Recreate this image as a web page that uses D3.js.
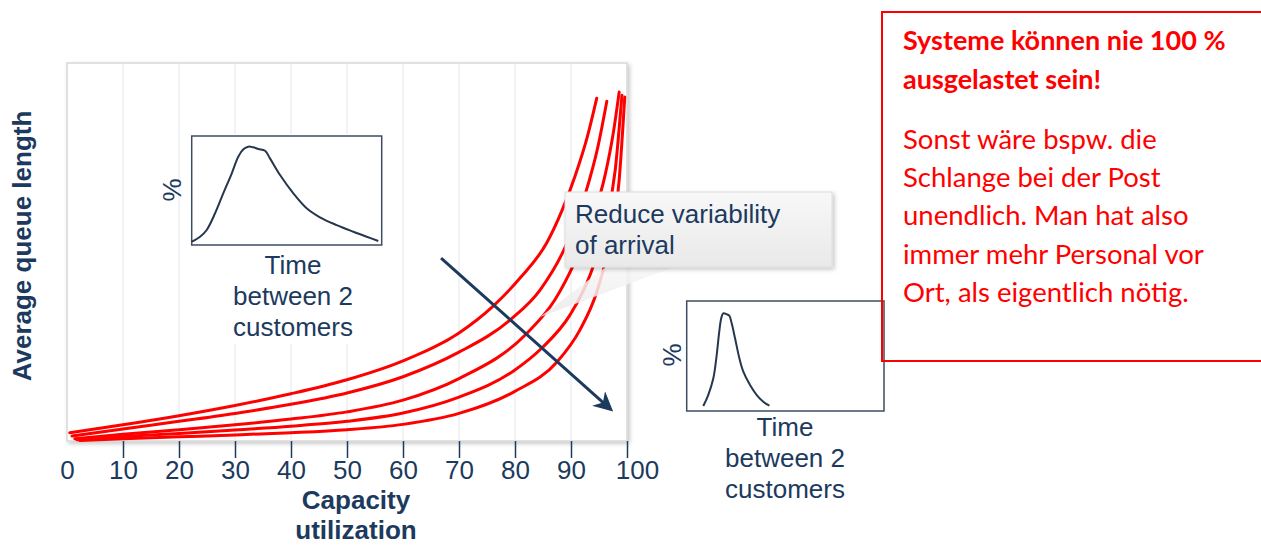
<!DOCTYPE html>
<html>
<head>
<meta charset="utf-8">
<script src="https://cdn.jsdelivr.net/npm/d3@7"></script>
<style>
  body { margin: 0; background: #fff; }
  svg { display: block; }
</style>
</head>
<body>
<svg id="chart" width="1261" height="545"></svg>
<script>
// Capacity utilization (%) tick labels
const utilTicks = [0, 10, 20, 30, 40, 50, 60, 70, 80, 90, 100];

// Average queue length vs. utilization, one curve per level of arrival variability
// [utilization %, queue length (relative units)]
const queueVarVeryHigh = [[0.5,2.2],[10,4.3],[20,6.7],[30,9.4],[40,12.5],[50,16.2],[60,21.2],[70,28.6],[76.1,35.7],[80.9,43.1],[85.7,52.5],[88.4,61.0],[90.7,70.0],[92.9,80.4],[94.6,90.7]];
const queueVarHigh     = [[0.9,1.3],[10,3.2],[20,5.2],[30,7.3],[40,9.7],[50,12.7],[60,17.0],[70,23.5],[79.1,32.0],[84.5,40.0],[88.9,51.1],[92.5,65.1],[94.8,77.8],[96.4,89.9]];
const queueVarMedium   = [[1.4,0.6],[10,1.8],[20,3.0],[30,4.3],[40,5.8],[50,7.7],[60,10.8],[70,16.5],[82.0,28.3],[87.1,37.3],[90.7,47.4],[93.8,58.5],[96.1,70.4],[97.5,81.0],[98.6,92.3]];
const queueVarLow      = [[1.8,0.3],[10,1.2],[20,2.0],[30,2.9],[40,3.9],[50,5.2],[60,7.4],[70,11.6],[79.8,18.6],[84.8,24.6],[89.8,33.3],[93.4,43.9],[96.1,57.1],[97.9,71.7],[99.1,91.5]];
const queueVarVeryLow  = [[2.3,0.1],[10,0.6],[20,1.1],[30,1.6],[40,2.2],[50,3.0],[60,4.4],[70,7.3],[79.8,13.0],[87.5,20.9],[91.6,29.4],[94.6,39.4],[97.0,53.2],[98.6,69.0],[99.6,91.0]];

// Distribution of time between two customers: [time, share %]
const arrivalsWide   = [[0,3.0],[0.44,7.6],[0.79,13.8],[1.23,29.1],[1.66,47.4],[2.11,65.8],[2.45,81.0],[2.72,87.8],[2.98,90.2],[3.24,89.6],[3.51,88.1],[3.86,86.5],[4.12,79.5],[4.65,64.2],[5.35,47.4],[6.05,33.7],[6.75,25.4],[7.63,18.3],[8.51,12.2],[9.21,7.6],[9.82,3.7]];
const arrivalsNarrow = [[0.84,4.5],[1.09,14.5],[1.35,29.7],[1.52,50.9],[1.65,72.1],[1.75,84.3],[1.85,88.8],[2.03,87.9],[2.16,86.6],[2.28,79.7],[2.45,66.1],[2.67,47.9],[2.87,35.7],[3.21,23.6],[3.55,14.5],[3.88,8.5],[4.19,4.8]];

// Text content
const xAxisTitle = ["Capacity", "utilization"];
const yAxisTitle = "Average queue length";
const insetCaption = ["Time", "between 2", "customers"];
const calloutLines = ["Reduce variability", "of arrival"];
const noteHeadline = ["Systeme können nie 100 %", "ausgelastet sein!"];
const noteBody = ["Sonst wäre bspw. die", "Schlange bei der Post", "unendlich. Man hat also", "immer mehr Personal vor", "Ort, als eigentlich nötig."];

const NAVY = "#1c3a5e";
const RED = "#ff0000";
const FONT = "'Liberation Sans', Arial, sans-serif";
const NOTE_FONT = "Lato, 'Open Sans', sans-serif";

const svg = d3.select("#chart");
const defs = svg.append("defs");

const shadow = defs.append("filter").attr("id", "softShadow")
  .attr("x", "-10%").attr("y", "-10%").attr("width", "130%").attr("height", "140%");
shadow.append("feDropShadow").attr("dx", 2).attr("dy", 2).attr("stdDeviation", 2)
  .attr("flood-color", "#000").attr("flood-opacity", 0.22);

const grad = defs.append("linearGradient").attr("id", "calloutFill")
  .attr("x1", 0).attr("y1", 0).attr("x2", 0).attr("y2", 1);
grad.append("stop").attr("offset", "0%").attr("stop-color", "#f8f8f8");
grad.append("stop").attr("offset", "100%").attr("stop-color", "#e9e9e9");

defs.append("marker").attr("id", "arrowHead")
  .attr("viewBox", "0 0 10 10").attr("refX", 8).attr("refY", 5)
  .attr("markerWidth", 6.5).attr("markerHeight", 6.5)
  .attr("markerUnits", "strokeWidth").attr("orient", "auto")
  .append("path").attr("d", "M0,0 L10,5 L0,10 L3,5 Z").attr("fill", NAVY);

// Scales for the main chart
const x = d3.scaleLinear().domain([0, 100]).range([67, 627]);
const y = d3.scaleLinear().domain([0, 100]).range([441, 63]);

// Plot frame
svg.append("rect")
  .attr("x", x(0)).attr("y", y(100))
  .attr("width", x(100) - x(0)).attr("height", y(0) - y(100))
  .attr("fill", "#fff").attr("stroke", "#d8d8d8").attr("stroke-width", 1.5)
  .attr("filter", "url(#softShadow)");

// Vertical grid lines
svg.append("g").selectAll("line")
  .data(utilTicks.filter(d => d > 0 && d < 100))
  .join("line")
  .attr("x1", d => x(d)).attr("x2", d => x(d))
  .attr("y1", y(100)).attr("y2", y(0))
  .attr("stroke", "#e3e7ec").attr("stroke-width", 1);

// X axis
const xAxis = svg.append("g")
  .attr("transform", `translate(0,${y(0)})`)
  .call(d3.axisBottom(x).tickValues(utilTicks).tickSize(17).tickPadding(3).tickSizeOuter(0));
xAxis.select(".domain").remove();
xAxis.selectAll(".tick line")
  .attr("stroke", NAVY).attr("stroke-width", 1.5)
  .attr("opacity", d => d === 0 ? 0 : 1);
xAxis.selectAll(".tick text")
  .attr("fill", NAVY)
  .style("font-family", FONT).style("font-size", "26px")
  .attr("dx", d => d === 100 ? 10 : 0);

// Axis titles
svg.append("g").selectAll("text")
  .data(xAxisTitle)
  .join("text")
  .attr("x", 356).attr("y", (d, i) => 509 + i * 30)
  .attr("text-anchor", "middle")
  .attr("fill", NAVY).style("font-family", FONT)
  .style("font-size", "26px").style("font-weight", "bold")
  .text(d => d);

svg.append("text")
  .attr("transform", "translate(31,246) rotate(-90)")
  .attr("text-anchor", "middle")
  .attr("fill", NAVY).style("font-family", FONT)
  .style("font-size", "26px").style("font-weight", "bold")
  .text(yAxisTitle);

// Queue-length curves
const line = d3.line()
  .x(d => x(d[0])).y(d => y(d[1]))
  .curve(d3.curveMonotoneX);

const curves = [queueVarVeryHigh, queueVarHigh, queueVarMedium, queueVarLow, queueVarVeryLow];
svg.append("g").selectAll("path")
  .data(curves)
  .join("path")
  .attr("d", line)
  .attr("fill", "none").attr("stroke", RED)
  .attr("stroke-width", 3).attr("stroke-linecap", "round");

// Arrow: reducing variability shifts the curve to the right
svg.append("line")
  .attr("x1", x(66.8)).attr("y1", y(48.4))
  .attr("x2", x(97.0)).attr("y2", y(8.5))
  .attr("stroke", NAVY).attr("stroke-width", 3)
  .attr("marker-end", "url(#arrowHead)");

// Inset distributions
function drawInset(box, data, xMax, caption, pctX, pctY, captionX, captionY) {
  const g = svg.append("g");
  g.append("rect")
    .attr("x", box.x0 - 5).attr("y", box.y0 - 2)
    .attr("width", box.x1 - box.x0 + 10).attr("height", captionY + 2 * 31 + 10 - box.y0)
    .attr("fill", "#fff");
  g.append("rect")
    .attr("x", box.x0).attr("y", box.y0)
    .attr("width", box.x1 - box.x0).attr("height", box.y1 - box.y0)
    .attr("fill", "#fff").attr("stroke", "#3d4d63").attr("stroke-width", 1.5);
  const ix = d3.scaleLinear().domain([0, xMax]).range([box.x0, box.x1]);
  const iy = d3.scaleLinear().domain([0, 100]).range([box.y1, box.y0]);
  g.append("path")
    .datum(data)
    .attr("d", d3.line().x(d => ix(d[0])).y(d => iy(d[1])).curve(d3.curveCatmullRom.alpha(0.5)))
    .attr("fill", "none").attr("stroke", "#26364d").attr("stroke-width", 2);
  g.append("text")
    .attr("transform", `translate(${pctX},${pctY}) rotate(-90)`)
    .attr("text-anchor", "middle")
    .attr("fill", NAVY).style("font-family", FONT).style("font-size", "26px")
    .text("%");
  g.selectAll("text.cap")
    .data(caption)
    .join("text").attr("class", "cap")
    .attr("x", captionX).attr("y", (d, i) => captionY + i * 31)
    .attr("text-anchor", "middle")
    .attr("fill", NAVY).style("font-family", FONT).style("font-size", "26px")
    .text(d => d);
}

drawInset({x0: 191.7, y0: 136, x1: 381.7, y1: 245}, arrivalsWide, 10, insetCaption, 181, 190, 293, 274);
drawInset({x0: 686.7, y0: 301, x1: 884, y1: 411}, arrivalsNarrow, 10, insetCaption, 681, 355, 785, 436);

// Callout
const callout = svg.append("g");
callout.append("path")
  .attr("d", "M607,266 L540,317 L677,266 Z")
  .attr("fill", "url(#calloutFill)").attr("opacity", 0.85);
callout.append("rect")
  .attr("x", 565).attr("y", 192).attr("width", 267).attr("height", 75)
  .attr("fill", "url(#calloutFill)").attr("stroke", "#dcdcdc").attr("stroke-width", 1)
  .attr("filter", "url(#softShadow)");
callout.selectAll("text")
  .data(calloutLines)
  .join("text")
  .attr("x", 575).attr("y", (d, i) => 223 + i * 31)
  .attr("fill", NAVY).style("font-family", FONT).style("font-size", "26px")
  .text(d => d);

// Note box
const note = svg.append("g");
note.append("rect")
  .attr("x", 882).attr("y", 12).attr("width", 420).attr("height", 349)
  .attr("fill", "none").attr("stroke", RED).attr("stroke-width", 2);
note.selectAll("text.head")
  .data(noteHeadline)
  .join("text").attr("class", "head")
  .attr("x", 903).attr("y", (d, i) => 50 + i * 38.5)
  .attr("fill", RED).style("font-family", NOTE_FONT)
  .style("font-size", "27px").style("font-weight", "bold")
  .text(d => d);
note.selectAll("text.body")
  .data(noteBody)
  .join("text").attr("class", "body")
  .attr("x", 903).attr("y", (d, i) => 148.5 + i * 38.4)
  .attr("fill", RED).style("font-family", NOTE_FONT)
  .style("font-size", "27.5px")
  .text(d => d);
</script>
</body>
</html>
